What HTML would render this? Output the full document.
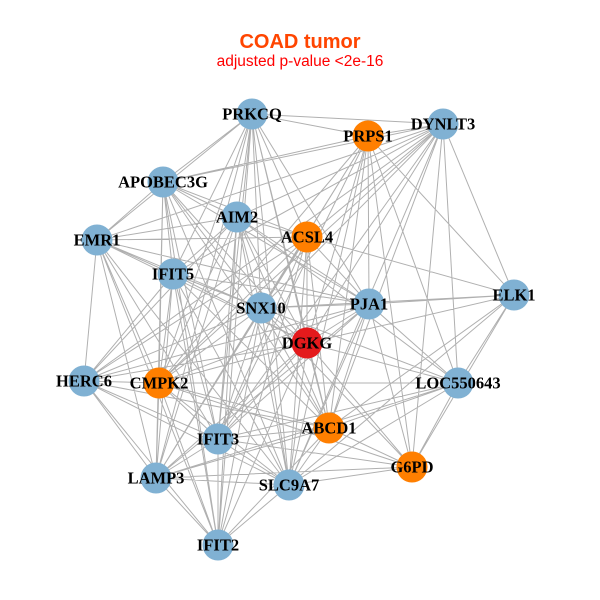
<!DOCTYPE html>
<html><head><meta charset="utf-8"><style>
html,body{margin:0;padding:0;background:#fff;}
svg{display:block;}
.t{font-family:"Liberation Serif",serif;font-weight:bold;font-size:16.5px;fill:#000;text-anchor:middle;}
</style></head><body>
<svg width="600" height="600" viewBox="0 0 600 600" xmlns="http://www.w3.org/2000/svg">
<rect width="600" height="600" fill="#fff"/>
<text x="300" y="48" text-anchor="middle" style="font-family:'Liberation Sans',sans-serif;font-weight:bold;font-size:20px;fill:#FF4500">COAD tumor</text>
<text x="300" y="66" text-anchor="middle" style="font-family:'Liberation Sans',sans-serif;font-size:15.5px;fill:#FF0000">adjusted p-value &lt;2e-16</text>
<path fill="none" stroke="#B0B0B0" stroke-width="1" d="
M252 114L368 136 M252 114L443 124 M252 114L163 182 M252 114L97 240 M252 114L237 217 M252 114L173 274 M252 114L261 308 M252 114L307 343 M252 114L369 304 M252 114L159 383 M252 114L218 439 M252 114L289 485 M252 114L329 428 M252 114L156 478 M252 114L218 545 M252 114L307 237
M368 136L443 124 M368 136L163 182 M368 136L514 295 M368 136L458 383 M368 136L412 467 M368 136L369 304 M368 136L307 343 M368 136L329 428 M368 136L289 485 M368 136L218 439 M368 136L261 308 M368 136L159 383 M368 136L156 478
M443 124L514 295 M443 124L458 383 M443 124L412 467 M443 124L237 217 M443 124L163 182 M443 124L97 240 M443 124L173 274 M443 124L261 308 M443 124L307 343 M443 124L307 237 M443 124L84 381 M443 124L159 383 M443 124L329 428 M443 124L289 485 M443 124L218 439
M163 182L97 240 M163 182L237 217 M163 182L173 274 M163 182L261 308 M163 182L307 343 M163 182L369 304 M163 182L159 383 M163 182L218 439 M163 182L156 478 M163 182L289 485 M163 182L218 545 M163 182L329 428 M163 182L307 237
M237 217L97 240 M237 217L307 237 M237 217L173 274 M237 217L261 308 M237 217L307 343 M237 217L369 304 M237 217L84 381 M237 217L159 383 M237 217L218 439 M237 217L156 478 M237 217L289 485 M237 217L218 545 M237 217L329 428 M237 217L458 383
M307 237L97 240 M307 237L514 295 M307 237L261 308 M307 237L307 343 M307 237L369 304 M307 237L159 383 M307 237L218 439 M307 237L156 478 M307 237L289 485 M307 237L218 545 M307 237L84 381 M307 237L329 428
M97 240L173 274 M97 240L261 308 M97 240L84 381 M97 240L159 383 M97 240L218 439 M97 240L156 478 M97 240L218 545 M97 240L289 485 M97 240L307 343 M97 240L369 304
M173 274L261 308 M173 274L369 304 M173 274L307 343 M173 274L84 381 M173 274L159 383 M173 274L218 439 M173 274L156 478 M173 274L218 545 M173 274L289 485 M173 274L329 428 M173 274L458 383
M261 308L369 304 M261 308L514 295 M261 308L307 343 M261 308L84 381 M261 308L159 383 M261 308L218 439 M261 308L156 478 M261 308L289 485 M261 308L218 545 M261 308L329 428 M261 308L412 467
M369 304L514 295 M369 304L307 343 M369 304L458 383 M369 304L412 467 M369 304L329 428 M369 304L289 485 M369 304L218 439 M369 304L159 383 M369 304L84 381 M369 304L156 478
M514 295L307 343 M514 295L458 383 M514 295L412 467 M514 295L329 428 M514 295L289 485
M307 343L458 383 M307 343L329 428 M307 343L412 467 M307 343L289 485 M307 343L218 439 M307 343L159 383 M307 343L84 381 M307 343L156 478 M307 343L218 545
M84 381L159 383 M84 381L218 439 M84 381L156 478 M84 381L289 485 M84 381L329 428 M84 381L218 545
M159 383L218 439 M159 383L156 478 M159 383L289 485 M159 383L329 428 M159 383L218 545 M159 383L412 467 M159 383L458 383
M458 383L412 467 M458 383L329 428 M458 383L289 485 M458 383L218 439 M458 383L156 478
M329 428L218 439 M329 428L412 467 M329 428L289 485 M329 428L156 478 M329 428L218 545
M218 439L156 478 M218 439L289 485 M218 439L218 545 M218 439L412 467
M412 467L289 485 M412 467L156 478
M156 478L289 485 M156 478L218 545
M289 485L218 545"/>
<g>
<circle cx="252" cy="114" r="15.5" fill="#80B1D3"/>
<circle cx="368" cy="136" r="15.5" fill="#FF7F00"/>
<circle cx="443" cy="124" r="15.5" fill="#80B1D3"/>
<circle cx="163" cy="182" r="15.5" fill="#80B1D3"/>
<circle cx="237" cy="217" r="15.5" fill="#80B1D3"/>
<circle cx="307" cy="237" r="15.5" fill="#FF7F00"/>
<circle cx="97" cy="240" r="15.5" fill="#80B1D3"/>
<circle cx="173" cy="274" r="15.5" fill="#80B1D3"/>
<circle cx="261" cy="308" r="15.5" fill="#80B1D3"/>
<circle cx="369" cy="304" r="15.5" fill="#80B1D3"/>
<circle cx="514" cy="295" r="15.5" fill="#80B1D3"/>
<circle cx="307" cy="343" r="15.5" fill="#E41A1C"/>
<circle cx="84" cy="381" r="15.5" fill="#80B1D3"/>
<circle cx="159" cy="383" r="15.5" fill="#FF7F00"/>
<circle cx="458" cy="383" r="15.5" fill="#80B1D3"/>
<circle cx="329" cy="428" r="15.5" fill="#FF7F00"/>
<circle cx="218" cy="439" r="15.5" fill="#80B1D3"/>
<circle cx="412" cy="467" r="15.5" fill="#FF7F00"/>
<circle cx="156" cy="478" r="15.5" fill="#80B1D3"/>
<circle cx="289" cy="485" r="15.5" fill="#80B1D3"/>
<circle cx="218" cy="545" r="15.5" fill="#80B1D3"/>
</g>
<g class="t">
<text class="t" x="252" y="119.5">PRKCQ</text>
<text class="t" x="368" y="141.5">PRPS1</text>
<text class="t" x="443" y="129.5">DYNLT3</text>
<text class="t" x="163" y="187.5">APOBEC3G</text>
<text class="t" x="237" y="222.5">AIM2</text>
<text class="t" x="307" y="242.5">ACSL4</text>
<text class="t" x="97" y="245.5">EMR1</text>
<text class="t" x="173" y="279.5">IFIT5</text>
<text class="t" x="261" y="313.5">SNX10</text>
<text class="t" x="369" y="309.5">PJA1</text>
<text class="t" x="514" y="300.5">ELK1</text>
<text class="t" x="307" y="348.5">DGKG</text>
<text class="t" x="84" y="386.5">HERC6</text>
<text class="t" x="159" y="388.5">CMPK2</text>
<text class="t" x="458" y="388.5">LOC550643</text>
<text class="t" x="329" y="433.5">ABCD1</text>
<text class="t" x="218" y="444.5">IFIT3</text>
<text class="t" x="412" y="472.5">G6PD</text>
<text class="t" x="156" y="483.5">LAMP3</text>
<text class="t" x="289" y="490.5">SLC9A7</text>
<text class="t" x="218" y="550.5">IFIT2</text>
</g>
</svg>
</body></html>
